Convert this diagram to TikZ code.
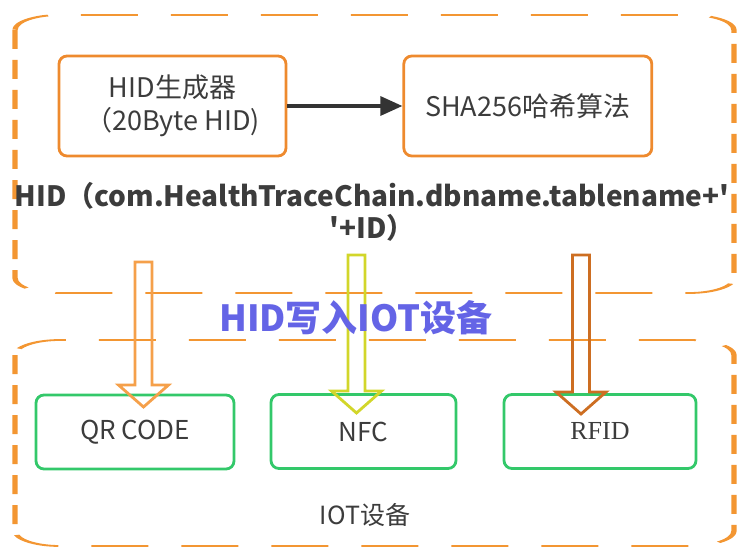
\documentclass[tikz,border=0pt]{standalone}
\usepackage{fontspec}
\setmainfont{Noto Sans CJK SC}[Ligatures=TeXOff]
\newfontfamily\rfidfont{Liberation Serif}[Ligatures=TeXOff]
\usetikzlibrary{calc, positioning, arrows.meta}
\definecolor{DashOrange}{HTML}{F39632}
\definecolor{BoxOrange}{HTML}{EE8A2E}
\definecolor{IoTGreen}{HTML}{33C86A}
\definecolor{TitleBlue}{HTML}{6464E6}
\definecolor{TextGray}{HTML}{3C3C3C}
\definecolor{ArrowGray}{HTML}{333333}
\definecolor{QROrange}{HTML}{F5A04A}
\definecolor{NFCYellow}{HTML}{D2D62A}
\definecolor{RFIDBrown}{HTML}{CD6E22}

% flecha de bloque: color, origen, punta
\newcommand{\bloque}[3]{%
  \draw[bloqueflecha, draw=#1] let \p1=(#2), \p2=(#3) in
    (\x1-8.5pt,\y1) -- (\x1-8.5pt,\y2+22pt) -- (\x1-25pt,\y2+22pt) -- (\x1,\y2)
    -- (\x1+25pt,\y2+22pt) -- (\x1+8.5pt,\y2+22pt) -- (\x1+8.5pt,\y1) -- cycle;}

\begin{document}
\begin{tikzpicture}[x=1pt, y=-1pt,
    caja/.style={draw=BoxOrange, line width=2.8pt, rounded corners=8pt,
                 minimum height=100pt, align=center, text=TextGray,
                 font=\fontsize{27}{33}\selectfont},
    dispositivo/.style={draw=IoTGreen, line width=2.8pt, rounded corners=8pt,
                 minimum height=74pt, text=TextGray,
                 font=\fontsize{26}{30}\selectfont},
    contenedor/.style={draw=DashOrange, line width=1.8pt,
                 dash pattern=on 19pt off 11pt, rounded corners=15pt},
    bloqueflecha/.style={line width=2.8pt, line join=miter}]
    \useasboundingbox (0,0) rectangle (738,548);

    % Contenedores
    \begin{scope}[x=0.33333pt, transform canvas={xscale=3}]
        \draw[contenedor] (15,15) rectangle (734,293);
        \draw[contenedor] (15,340) rectangle (734,546);
    \end{scope}

    % Generador y hash
    \node[caja, minimum width=227pt] (gen) at (172.5,106) {HID生成器\\（20Byte HID)};
    \node[caja, minimum width=248pt, right=115pt of gen] (sha) {SHA256哈希算法};
    \draw[line width=3.2pt, draw=ArrowGray, -{Triangle[length=22pt,width=19pt]}] (gen) -- (sha);

    \node[align=center, text=TextGray, font=\bfseries\fontsize{28}{32}\selectfont] (hid)
        at (372,212) {HID（com.HealthTraceChain.dbname.tablename+'\\'+ID）};

    % Dispositivos IOT
    \node[dispositivo, minimum width=198pt] (qr) at (135,432) {QR CODE};
    \node[dispositivo, minimum width=185pt] (nfc) at (363.5,431.5) {NFC};
    \node[dispositivo, minimum width=192pt] (rfid) at (600,431.5) {\rfidfont RFID};
    \node[text=TextGray, font=\fontsize{25}{30}\selectfont] (iot) at (365,515) {IOT设备};

    % Flechas de escritura
    \coordinate (qrsrc) at (143.5,262);
    \coordinate (qrin) at (143.5,407);
    \coordinate (nfcsrc) at (356.5,255);
    \coordinate (nfcin) at (356.5,413);
    \coordinate (rfidsrc) at (581,255);
    \coordinate (rfidin) at (581,414);
    \bloque{QROrange}{qrsrc}{qrin}
    \bloque{NFCYellow}{nfcsrc}{nfcin}
    \bloque{RFIDBrown}{rfidsrc}{rfidin}

    \node[text=TitleBlue, font=\bfseries\fontsize{36}{40}\selectfont] (titulo)
        at (356,318) {HID写入IOT设备};
\end{tikzpicture}
\end{document}
